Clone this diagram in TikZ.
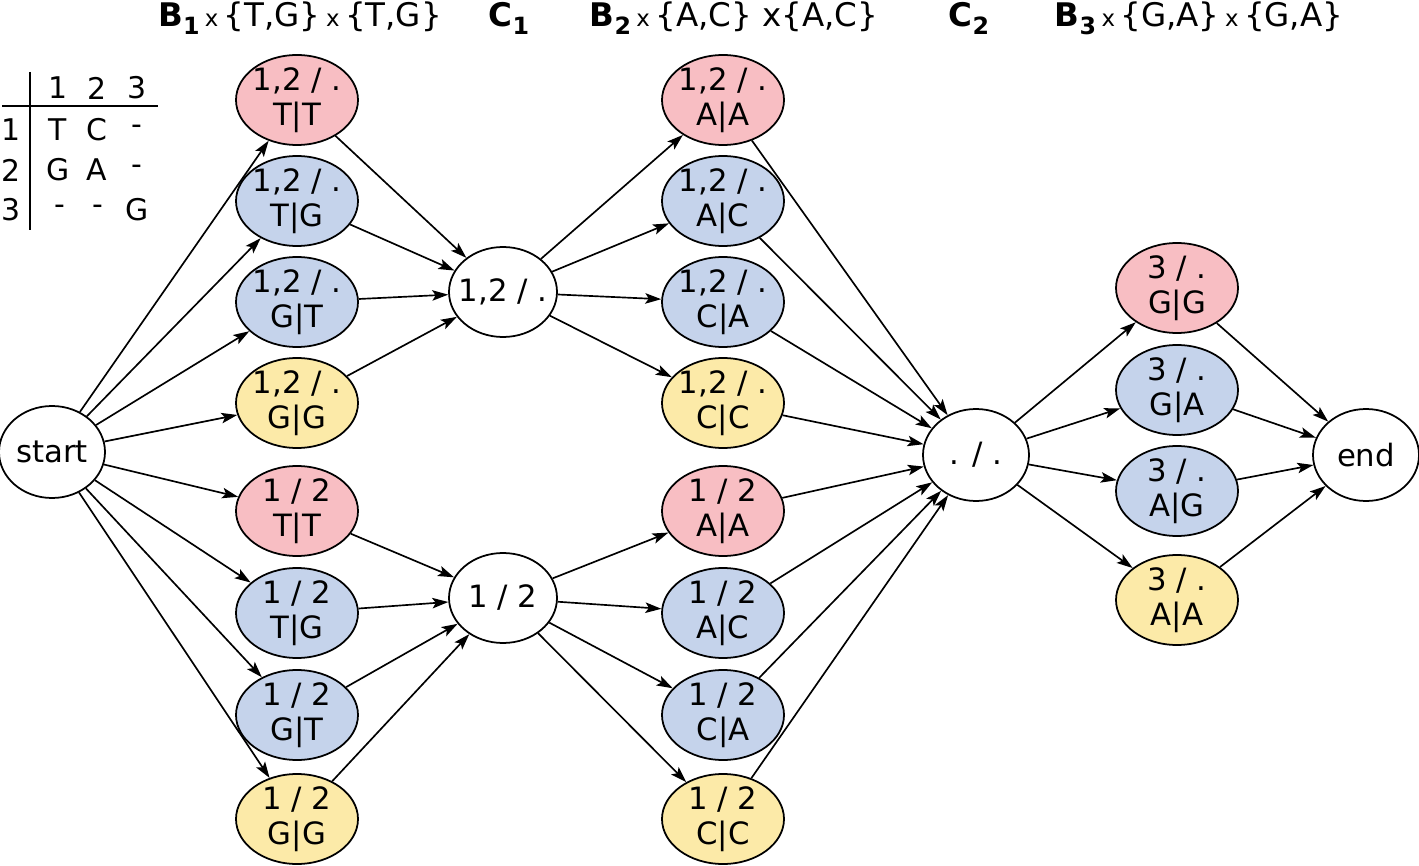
\documentclass[tikz,border=0pt]{standalone}
\usepackage{fontspec}
\setmainfont{DejaVu Sans}
\usetikzlibrary{shapes.geometric,arrows.meta}
\definecolor{pinkfill}{RGB}{248,190,195}
\definecolor{bluefill}{RGB}{197,211,235}
\definecolor{yellowfill}{RGB}{252,234,168}
\newcommand{\hsub}[1]{\raisebox{-0.45ex}{\bfseries\fontsize{13.5}{13.5}\selectfont #1}}
\newcommand{\hx}{\,{\fontsize{13}{13}\selectfont x}\,}
\begin{document}
\begin{tikzpicture}[x=0.2mm,y=-0.2mm,
        state/.style={ellipse,draw,line width=1pt,minimum width=24.4mm,minimum height=18mm,
            inner sep=-5mm,align=center,font=\fontsize{17.5}{20}\selectfont},
        hub/.style={state,minimum width=21.2mm,minimum height=18.4mm},
        redst/.style={state,fill=pinkfill},
        bluest/.style={state,fill=bluefill},
        yellowst/.style={state,fill=yellowfill},
        edge/.style={line width=0.95pt,-{Stealth[length=3.2mm,width=2.1mm,inset=0.7mm]}},
        head/.style={font=\fontsize{18.5}{22}\selectfont},
        tab/.style={font=\fontsize{17}{20}\selectfont,inner sep=0pt}]
    \useasboundingbox (0,0) rectangle (1419,866);
    % headers
    \node[head] (h1) at (300,18) {\textbf{B}\hsub{1}\hx\{T,G\}\hx\{T,G\}};
    \node[head] (h2) at (509,18) {\textbf{C}\hsub{1}};
    \node[head] (h3) at (734,18) {\textbf{B}\hsub{2}\hx\{A,C\} x\{A,C\}};
    \node[head] (h4) at (969,18) {\textbf{C}\hsub{2}};
    \node[head] (h5) at (1199,18) {\textbf{B}\hsub{3}\hx\{G,A\}\hx\{G,A\}};
    % alignment table
    \draw[line width=0.9pt] (30,72) -- (30,230);
    \draw[line width=0.9pt] (2,106) -- (158,106);
    \node[tab] (c1) at (58,88) {1};
    \node[tab] (c2) at (97,88) {2};
    \node[tab] (c3) at (137,88) {3};
    \node[tab] (r1) at (11,130) {1};
    \node[tab] (r2) at (11,170) {2};
    \node[tab] (r3) at (11,210) {3};
    \node[tab] (x11) at (58,130) {T};
    \node[tab] (x12) at (97,130) {C};
    \node[tab] (x13) at (137,130) {-};
    \node[tab] (x21) at (58,170) {G};
    \node[tab] (x22) at (97,170) {A};
    \node[tab] (x23) at (137,170) {-};
    \node[tab] (x31) at (60,210) {-};
    \node[tab] (x32) at (98,210) {-};
    \node[tab] (x33) at (137,210) {G};
    % start and first block
    \node[hub] (start) at (52,452) {start};
    \node[redst] (uTT1) at (297,100) {1,2 / .\\T|T};
    \node[bluest] (uTG1) at (297,201) {1,2 / .\\T|G};
    \node[bluest] (uGT1) at (297,302) {1,2 / .\\G|T};
    \node[yellowst] (uGG1) at (297,403) {1,2 / .\\G|G};
    \node[redst] (lTT1) at (297,511) {1 / 2\\T|T};
    \node[bluest] (lTG1) at (297,613) {1 / 2\\T|G};
    \node[bluest] (lGT1) at (297,715) {1 / 2\\G|T};
    \node[yellowst] (lGG1) at (297,819) {1 / 2\\G|G};
    % C1
    \node[hub,minimum width=21.6mm,minimum height=18mm] (c1u) at (503,292) {1,2 / .};
    \node[hub,minimum width=21.6mm,minimum height=18mm] (c1l) at (503,598) {1 / 2};
    % second block
    \node[redst] (uAA2) at (723,100) {1,2 / .\\A|A};
    \node[bluest] (uAC2) at (723,201) {1,2 / .\\A|C};
    \node[bluest] (uCA2) at (723,302) {1,2 / .\\C|A};
    \node[yellowst] (uCC2) at (723,403) {1,2 / .\\C|C};
    \node[redst] (lAA2) at (723,511) {1 / 2\\A|A};
    \node[bluest] (lAC2) at (723,613) {1 / 2\\A|C};
    \node[bluest] (lCA2) at (723,715) {1 / 2\\C|A};
    \node[yellowst] (lCC2) at (723,819) {1 / 2\\C|C};
    % C2, third block, end
    \node[hub] (c2) at (976,455) {. / .};
    \node[redst] (GG3) at (1177,288) {3 / .\\G|G};
    \node[bluest] (GA3) at (1177,390) {3 / .\\G|A};
    \node[bluest] (AG3) at (1177,491) {3 / .\\A|G};
    \node[yellowst] (AA3) at (1177,600) {3 / .\\A|A};
    \node[hub] (finish) at (1366,455) {end};
    % edges
    \foreach \n in {uTT1,uTG1,uGT1,uGG1,lTT1,lTG1,lGT1,lGG1}
        \draw[edge] (start) -- (\n);
    \foreach \n in {uTT1,uTG1,uGT1,uGG1}
        \draw[edge] (\n) -- (c1u);
    \foreach \n in {lTT1,lTG1,lGT1,lGG1}
        \draw[edge] (\n) -- (c1l);
    \foreach \n in {uAA2,uAC2,uCA2,uCC2}
        \draw[edge] (c1u) -- (\n);
    \foreach \n in {lAA2,lAC2,lCA2,lCC2}
        \draw[edge] (c1l) -- (\n);
    \foreach \n in {uAA2,uAC2,uCA2,uCC2,lAA2,lAC2,lCA2,lCC2}
        \draw[edge] (\n) -- (c2);
    \foreach \n in {GG3,GA3,AG3,AA3} {
        \draw[edge] (c2) -- (\n);
        \draw[edge] (\n) -- (finish);
    }
\end{tikzpicture}
\end{document}
